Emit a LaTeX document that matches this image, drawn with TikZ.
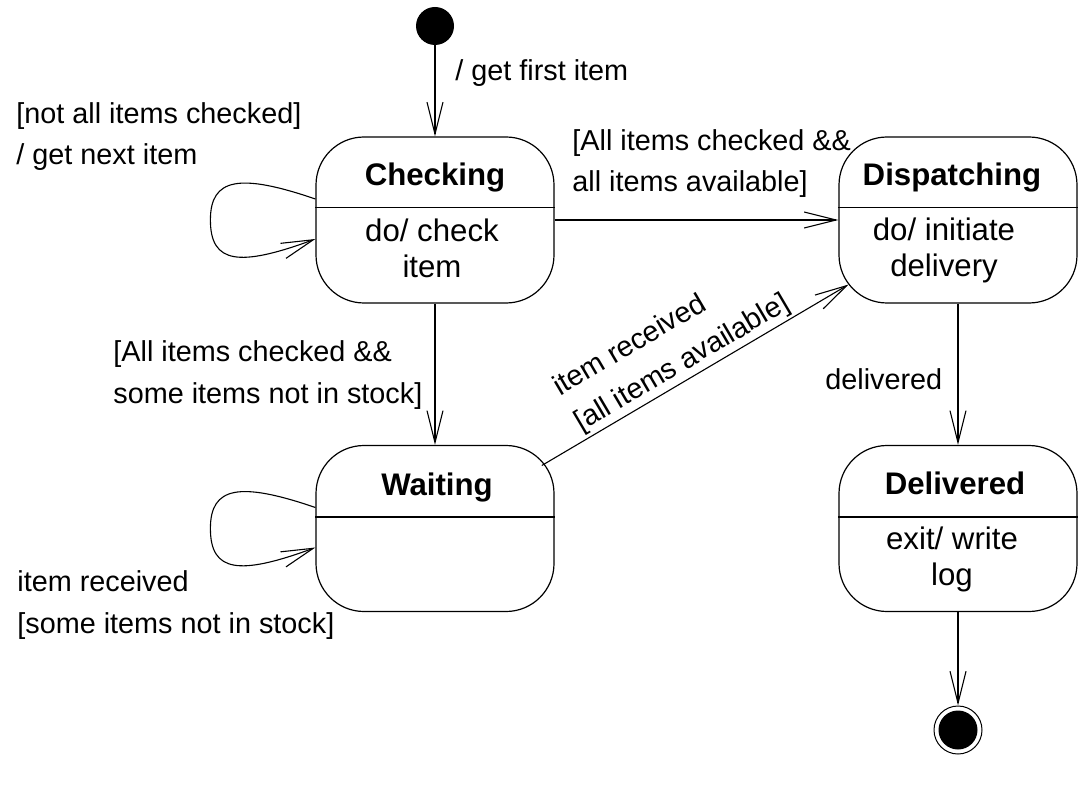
\documentclass[tikz,border=0pt]{standalone}
\usepackage{fontspec}
\setmainfont{Liberation Sans}
\usetikzlibrary{arrows.meta,calc}
\begin{document}
\begin{tikzpicture}[x=0.5pt,y=-0.5pt,
  state/.style={draw, line width=0.6pt, rounded corners=24pt, minimum width=119pt, minimum height=83pt, inner sep=0pt},
  trans/.style={draw, line width=0.55pt, -{Straight Barb[length=16pt,width=8pt]}},
  lbl/.style={inner sep=0pt, font=\fontsize{14.4}{20.75}\selectfont, align=left, anchor=base west},
  ttl/.style={inner sep=0pt, font=\fontsize{15.6}{18}\selectfont\bfseries, anchor=base},
  body/.style={inner sep=0pt, font=\fontsize{15.6}{18}\selectfont, align=center, anchor=base},
  divline/.style={line width=0.6pt}
]
\fill[white] (0,0) rectangle (1092,786);
\useasboundingbox (0,0) rectangle (1092,786);

% states
\node[circle, fill=black, minimum size=19pt, inner sep=0pt] (init) at (435,26) {};
\node[state] (chk) at (435,220) {};
\node[state] (disp) at (958,220) {};
\node[state] (wait) at (435,528.5) {};
\node[state] (deliv) at (958,528.5) {};
\node[circle, draw, line width=0.5pt, minimum size=24pt, inner sep=0pt] (final) at (958,730) {};
\node[circle, fill=black, minimum size=19.5pt, inner sep=0pt] (finalin) at (958,730) {};

% dividers
\draw[divline] ($(chk.north west)+(0,71)$) -- ($(chk.north east)+(0,71)$);
\draw[divline] ($(disp.north west)+(0,71)$) -- ($(disp.north east)+(0,71)$);
\draw[divline] ($(wait.north west)+(0,72)$) -- ($(wait.north east)+(0,72)$);
\draw[divline] ($(deliv.north west)+(0,72)$) -- ($(deliv.north east)+(0,72)$);

% state texts (multi-line nodes: base = last line)
\node[ttl] (chkT) at (435,186) {Checking};
\node[body] (chkB) at (432,278) {do/ check\\item};
\node[ttl] (dispT) at (952,186) {Dispatching};
\node[body] (dispB) at (944,277) {do/ initiate\\delivery};
\node[ttl] (waitT) at (437,495) {Waiting};
\node[ttl] (delivT) at (955,494) {Delivered};
\node[body] (delivB) at (952,585) {exit/ write\\log};

% transitions
\draw[trans] (init) -- (chk);
\draw[trans] (chk) -- (disp);
\draw[trans] (chk) -- (wait);
\draw[trans, shorten <=62pt, shorten >=63.5pt] (wait.center) -- (disp.center);
\draw[trans] (disp) -- (deliv);
\draw[trans] (deliv) -- (final);

% self loops
\coordinate (chkL1) at ($(chk.west)+(0,-21)$);
\coordinate (chkL2) at ($(chk.west)+(0,19)$);
\draw[trans] (chkL1) .. controls ($(chk.west)+(-76,-47)$) and ($(chk.west)+(-105,-42)$) .. ($(chk.west)+(-105,0)$) .. controls ($(chk.west)+(-105,44)$) and ($(chk.west)+(-76,47)$) .. (chkL2);
\coordinate (waitL1) at ($(wait.west)+(0,-21)$);
\coordinate (waitL2) at ($(wait.west)+(0,19)$);
\draw[trans] (waitL1) .. controls ($(wait.west)+(-76,-47)$) and ($(wait.west)+(-105,-42)$) .. ($(wait.west)+(-105,0)$) .. controls ($(wait.west)+(-105,44)$) and ($(wait.west)+(-76,47)$) .. (waitL2);

% labels (multi-line nodes: base = last line)
\node[lbl] (l1) at (455,81) {/ get first item};
\node[lbl] (l2) at (16,165) {[not all items checked]\\/ get next item};
\node[lbl] (l3) at (572,192) {[All items checked \&\&\\all items available]};
\node[lbl] (l4) at (113,403) {[All items checked \&\&\\some items not in stock]};
\node[lbl] (l5) at (825,389) {delivered};
\node[lbl] (l6) at (17,633) {item received\\{}[some items not in stock]};
\node[lbl, rotate=30.5] (l7) at (581,432) {item received\\{}[all items available]};
\end{tikzpicture}
\end{document}
